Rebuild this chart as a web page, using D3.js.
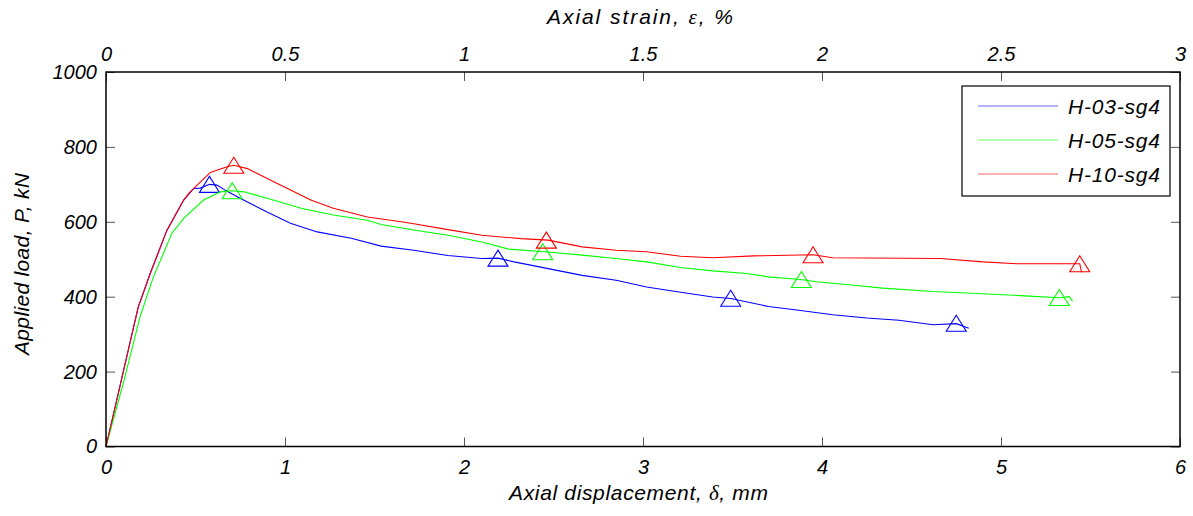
<!DOCTYPE html>
<html><head><meta charset="utf-8">
<script src="https://cdn.jsdelivr.net/npm/d3@7/dist/d3.min.js"></script>
<style>
body{margin:0;background:#fff;}
text{font-family:"Liberation Sans",Arial,sans-serif;font-style:italic;fill:#000;}
</style></head>
<body><svg id="c" width="1193" height="516"></svg>
<script>
const seriesNames = ["H-03-sg4","H-05-sg4","H-10-sg4"];
const seriesColors = ["#0000ff","#00ff00","#ff0000"];

const h03Disp = [0,0.18,0.247,0.34,0.434,0.49,0.527,0.578,0.62,0.667,0.733,0.90,1.03,1.18,1.37,1.537,1.72,1.91,2.10,2.19,2.28,2.47,2.66,2.85,3.02,3.21,3.39,3.49,3.70,3.87,4.06,4.25,4.43,4.62,4.75,4.82];
const h03Load = [0,372,462,577,658,689,690,700,698,684,667,626,596,573,556,535,524,510,502,503,493,475,457,444,426,412,399,395,374,364,352,343,337,325,328,316];
const h05Disp = [0,0.1,0.19,0.265,0.368,0.434,0.545,0.64,0.705,0.77,0.90,1.09,1.27,1.46,1.537,1.72,1.91,2.10,2.25,2.45,2.66,2.85,3.02,3.21,3.39,3.58,3.70,3.88,3.97,4.15,4.34,4.62,4.90,5.18,5.33,5.38,5.40];
const h05Load = [0,175,346,453,569,609,658,680,683,680,663,636,618,604,593,578,564,546,527,520,511,502,493,478,469,462,453,446,440,432,423,414,408,401,397,400,388];
const h10Disp = [0,0.18,0.247,0.34,0.434,0.47,0.583,0.677,0.714,0.79,0.957,1.144,1.27,1.46,1.65,1.72,1.91,2.10,2.32,2.47,2.66,2.85,3.02,3.21,3.39,3.62,3.95,4.06,4.66,4.90,5.09,5.44,5.45];
const h10Load = [0,372,462,577,658,680,732,747,751,742,702,658,636,613,600,595,579,564,555,551,533,524,520,508,504,509,512,504,502,493,488,488,465];

const h03MarkDisp = [0.578,2.19,3.49,4.75];
const h03MarkLoad = [700,503,396,329];
const h05MarkDisp = [0.705,2.44,3.885,5.326];
const h05MarkLoad = [683,520,446,398];
const h10MarkDisp = [0.714,2.46,3.95,5.44];
const h10MarkLoad = [751,551,512,488];

const xTicks = [0,1,2,3,4,5,6];
const yTicks = [0,200,400,600,800,1000];
const topTicks = [0,0.5,1,1.5,2,2.5,3];

const series = [
  {disp:h03Disp, load:h03Load, mx:h03MarkDisp, my:h03MarkLoad},
  {disp:h05Disp, load:h05Load, mx:h05MarkDisp, my:h05MarkLoad},
  {disp:h10Disp, load:h10Load, mx:h10MarkDisp, my:h10MarkLoad}
];

const L=106, R=1180, T=72, B=446.5;
const svg = d3.select("#c");
const x = d3.scaleLinear().domain([0,6]).range([L,R]);
const x2 = d3.scaleLinear().domain([0,3]).range([L,R]);
const y = d3.scaleLinear().domain([0,1000]).range([B,T]);

svg.append("rect").attr("width",1193).attr("height",516).attr("fill","#fff");

const tl = 9;
const gb = svg.append("g").attr("transform",`translate(0,${B})`)
  .call(d3.axisBottom(x).tickValues(xTicks).tickSize(-tl).tickPadding(13).tickFormat(d3.format("d")));
const gt = svg.append("g").attr("transform",`translate(0,${T})`)
  .call(d3.axisTop(x2).tickValues(topTicks).tickSize(-tl).tickPadding(11).tickFormat(d=>String(d)));
const gl = svg.append("g").attr("transform",`translate(${L},0)`)
  .call(d3.axisLeft(y).tickValues(yTicks).tickSize(-tl).tickPadding(8).tickFormat(d3.format("d")));
const gr = svg.append("g").attr("transform",`translate(${R},0)`)
  .call(d3.axisRight(y).tickValues(yTicks).tickSize(-tl).tickFormat(""));
[gb,gt,gl,gr].forEach(g=>{
  g.select(".domain").remove();
  g.selectAll(".tick line").attr("stroke","#555").attr("stroke-width",1);
  g.selectAll("text").attr("font-size",20).attr("font-family","Liberation Sans, Arial, sans-serif").attr("font-style","italic").attr("fill","#000");
});
gl.selectAll("text").attr("dx","-0.05em");

const tri = (hw,h) => `M0,${-h/2}L${hw},${h/2}L${-hw},${h/2}Z`;

const line = d3.line().x(d=>x(d[0])).y(d=>y(d[1]));
series.forEach((s,i)=>{
  const pts = s.disp.map((d,j)=>[d,s.load[j]]);
  svg.append("path").attr("d",line(pts)).attr("fill","none")
    .attr("stroke",seriesColors[i]).attr("stroke-width",1.1);
  svg.selectAll(null).data(s.mx.map((d,j)=>[d,s.my[j]])).enter().append("path")
    .attr("d",tri(10,16)).attr("transform",d=>`translate(${x(d[0])},${y(d[1])})`)
    .attr("fill","none").attr("stroke",seriesColors[i]).attr("stroke-width",1.1);
});

svg.append("rect").attr("x",L).attr("y",T).attr("width",R-L).attr("height",B-T)
  .attr("fill","none").attr("stroke","#000").attr("stroke-width",1.5);

const lg = svg.append("g");
lg.append("rect").attr("x",962).attr("y",86).attr("width",208).attr("height",110)
  .attr("fill","#fff").attr("stroke","#000").attr("stroke-width",1.2);
const rowY = [106,140,174];
seriesNames.forEach((n,i)=>{
  lg.append("line").attr("x1",978).attr("x2",1058).attr("y1",rowY[i]).attr("y2",rowY[i])
    .attr("stroke",seriesColors[i]).attr("stroke-width",1.2).attr("stroke-opacity",0.6);
  lg.append("text").attr("x",1068).attr("y",rowY[i]+7.5).attr("font-size",21)
    .attr("textLength",92).attr("lengthAdjust","spacing").text(n);
});

const serif = "Liberation Serif, Times New Roman, serif";
const bt = svg.append("text").attr("x",638.5).attr("y",500).attr("text-anchor","middle").attr("font-size",21)
  .attr("textLength",259).attr("lengthAdjust","spacing");
bt.append("tspan").text("Axial displacement, ");
bt.append("tspan").attr("font-family",serif).text("δ");
bt.append("tspan").text(", mm");
const tt = svg.append("text").attr("x",640).attr("y",24).attr("text-anchor","middle").attr("font-size",21)
  .attr("textLength",186).attr("lengthAdjust","spacing");
tt.append("tspan").text("Axial strain, ");
tt.append("tspan").attr("font-family",serif).text("ε");
tt.append("tspan").text(", %");
svg.append("text").attr("transform",`translate(29,264) rotate(-90)`).attr("text-anchor","middle")
  .attr("font-size",21).attr("textLength",182).attr("lengthAdjust","spacing").text("Applied load, P, kN");
</script></body></html>
